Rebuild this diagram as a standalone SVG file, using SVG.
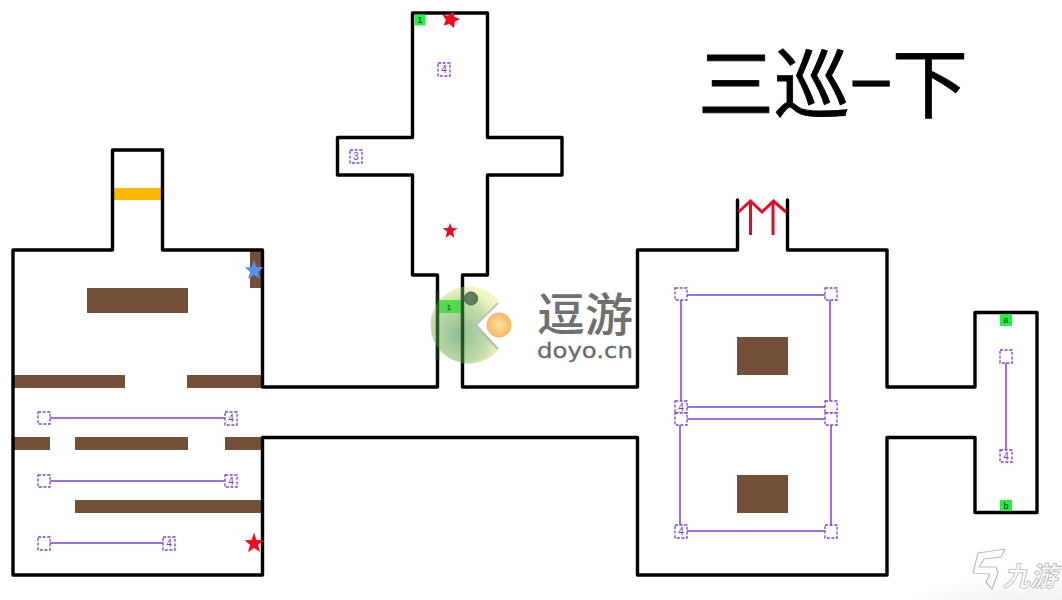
<svg xmlns="http://www.w3.org/2000/svg" width="1062" height="600" viewBox="0 0 1062 600">
<defs>
<style>
.wall{fill:none;stroke:#000;stroke-width:3.4;stroke-linejoin:round;stroke-linecap:round}
.brown{fill:#745038}
.link{fill:none;stroke:#7f3fe2;stroke-width:1.5}
.box{fill:#fff;stroke:#7f3fe2;stroke-width:1.3;stroke-dasharray:3 1.600}
.n{font-family:"Liberation Sans",sans-serif;font-size:10px;fill:#6f3fc8;text-anchor:middle}
.green{fill:#22f040}
.g{font-family:"Liberation Sans",sans-serif;font-size:9px;fill:#222;text-anchor:middle}
.red{fill:#f00a1e}
.arrow{fill:none;stroke:#ea0a22;stroke-width:3}
</style>
<radialGradient id="pac" cx="0.42" cy="0.62" r="0.62"><stop offset="0" stop-color="#79ad7c"/><stop offset="0.6" stop-color="#a9cf90"/><stop offset="1" stop-color="#eef2b4"/></radialGradient>
<radialGradient id="ball" cx="0.5" cy="0.5" r="0.55"><stop offset="0" stop-color="#fde0a0"/><stop offset="1" stop-color="#f7b45c"/></radialGradient>
<radialGradient id="shade" gradientUnits="userSpaceOnUse" cx="1040" cy="640" r="170" gradientTransform="translate(0 384) scale(1 0.4)"><stop offset="0" stop-color="#dedede"/><stop offset="1" stop-color="#fff"/></radialGradient>
</defs>
<rect width="1062" height="600" fill="#fff"/>
<rect x="860" y="560" width="202" height="40" fill="url(#shade)"/>

<g id="blocks">
<rect class="brown" x="87" y="288" width="101" height="25"/>
<rect class="brown" x="13" y="375" width="112" height="13"/>
<rect class="brown" x="187" y="375" width="75" height="13"/>
<rect class="brown" x="13" y="437" width="37" height="13"/>
<rect class="brown" x="75" y="437" width="113" height="13"/>
<rect class="brown" x="225" y="437" width="37" height="13"/>
<rect class="brown" x="75" y="500" width="187" height="13"/>
<rect class="brown" x="250" y="250" width="12" height="38"/>
<rect class="brown" x="737" y="337" width="51" height="38"/>
<rect class="brown" x="737" y="475" width="51" height="38"/>
<rect x="114" y="188" width="47" height="12" fill="#ffb900"/>
</g>

<g id="connectors">
<path class="wall" d="M737.500 250H637.500V387H462.500V275H487.500V175H562V137.500H487.500V13H412.500V137.500H337.500V175H412.500V275H437.500V387H262.500V250H162.500V150H112.500V250H13V575H262.500V437.500H637.500V575H887V437.500H975V512.500H1037V312.500H975V387H887V250H787.500V200M737.500 250V200"/>
<path class="link" d="M49 418H226M49 481H226M49 543H163M681 296V406M686 295H825M830 299V406M686 407H825M686 419H825M680 425V525M831 425V525M686 531H825M1006 362V450"/>
</g>

<g id="markers">
<g id="m1"><rect class="box" x="38" y="412" width="12" height="12"/></g>
<g id="m2"><rect class="box" x="225" y="412" width="12" height="13"/><text class="n" x="231" y="422">4</text></g>
<g id="m3"><rect class="box" x="38" y="475" width="12" height="12"/></g>
<g id="m4"><rect class="box" x="225" y="475" width="12" height="12"/><text class="n" x="231" y="485">4</text></g>
<g id="m5"><rect class="box" x="38" y="537" width="12" height="13"/></g>
<g id="m6"><rect class="box" x="163" y="537" width="12" height="13"/><text class="n" x="169" y="547">4</text></g>
<g id="m7"><rect class="box" x="350" y="150" width="12" height="13"/><text class="n" x="356" y="160">3</text></g>
<g id="m8"><rect class="box" x="438" y="63" width="12" height="13"/><text class="n" x="444" y="73">4</text></g>
<g id="m9"><rect class="box" x="675" y="288" width="12" height="12"/></g>
<g id="m10"><rect class="box" x="825" y="288" width="12" height="12"/></g>
<g id="m11"><rect class="box" x="675" y="401" width="12" height="12"/><text class="n" x="681" y="411">4</text></g>
<g id="m12"><rect class="box" x="825" y="401" width="12" height="12"/></g>
<g id="m13"><rect class="box" x="675" y="413" width="12" height="12"/></g>
<g id="m14"><rect class="box" x="825" y="413" width="12" height="12"/></g>
<g id="m15"><rect class="box" x="675" y="525" width="12" height="13"/><text class="n" x="681" y="535">4</text></g>
<g id="m16"><rect class="box" x="825" y="525" width="12" height="13"/></g>
<g id="m17"><rect class="box" x="1000" y="350" width="12" height="13"/></g>
<g id="m18"><rect class="box" x="1000" y="450" width="12" height="12"/><text class="n" x="1006" y="460">4</text></g>
</g>

<g id="labels">
<g id="g1"><rect class="green" x="414.500" y="14.500" width="11" height="11"/><text class="g" x="420" y="23">1</text></g>
<g id="g2"><rect class="green" x="1000" y="314" width="12" height="12"/><text class="g" x="1006" y="323">a</text></g>
<g id="g3"><rect class="green" x="1000" y="500" width="12" height="11"/><text class="g" x="1006" y="509">b</text></g>
</g>

<g id="stars">
<polygon class="red" points="453,11 454.300,16.800 460,19 454.800,21.800 454,28 449.500,24 443.500,25.500 446,20 442.500,15 448.500,15.500"/>
<polygon class="red" points="450,223 451.900,228 457.500,228.300 453,231.600 454.400,238 450,234.500 445.600,238 447,231.600 442.500,228.300 448.100,228"/>
<polygon points="254,260 256.400,267 263.500,267.300 258,271.900 260,279 254,275 248,279 250,271.900 245,267.300 251.600,267" fill="#5b8ff0"/>
<polygon class="red" points="254,532.500 256.400,540 264,540.300 258,544.700 260,552 254,548 248,552 250,544.700 244.500,540.300 251.600,540"/>
</g>

<g id="gate">
<path class="arrow" d="M750.500 235V202M773 235V202M738.500 212L750.500 201L762 212L773.500 201L786 212"/>
</g>

<text id="title" x="833" y="112" font-family="'Noto Sans CJK SC',sans-serif" font-size="76" text-anchor="middle" fill="#000" stroke="#000" stroke-width="0.800" textLength="270" lengthAdjust="spacingAndGlyphs">三巡−下</text>

<g id="logo">
<path d="M499 301A38.500 38.500 0 1 0 499 349L475 325Z" fill="url(#pac)" fill-opacity="0.8"/>
<rect x="438" y="300" width="24" height="13" fill="#3fd93a" fill-opacity="0.85"/>
<text x="449" y="310" font-family="'Liberation Sans',sans-serif" font-size="8" fill="#222" text-anchor="middle">1</text>
<path d="M437.500 290V360M462.500 287V364" fill="none" stroke="#123a12" stroke-width="3.400" opacity="0.75"/>
<circle cx="471" cy="298.500" r="6.500" fill="#5f8060" stroke="#3d5a40" stroke-width="1"/>
<path d="M498 303L476 325L498 349" fill="none" stroke="#8aa090" stroke-width="2" opacity="0.6"/>
<circle cx="499" cy="325" r="12.500" fill="url(#ball)"/>
<text x="585" y="331" font-family="'Noto Sans CJK SC',sans-serif" font-size="46" font-weight="500" fill="#707070" text-anchor="middle" textLength="96" lengthAdjust="spacingAndGlyphs">逗游</text>
<text x="585" y="358" font-family="'DejaVu Sans',sans-serif" font-size="22" fill="#6a6a6a" stroke="#6a6a6a" stroke-width="0.300" text-anchor="middle" textLength="96" lengthAdjust="spacingAndGlyphs">doyo.cn</text>
</g>

<g id="watermark">
<path d="M978 553L1005 549L1001 557L984 559L979 567L996 567L998 573L992 589L986 582L990 574L973 573Z" fill="#fff" stroke="#bdbdbd" stroke-width="1.200" stroke-linejoin="round"/>
<text x="1030" y="586" font-family="'Noto Sans CJK SC',sans-serif" font-size="27" font-weight="700" font-style="italic" fill="#fff" stroke="#b8b8b8" stroke-width="0.800" text-anchor="middle">九游</text>
</g>
</svg>
